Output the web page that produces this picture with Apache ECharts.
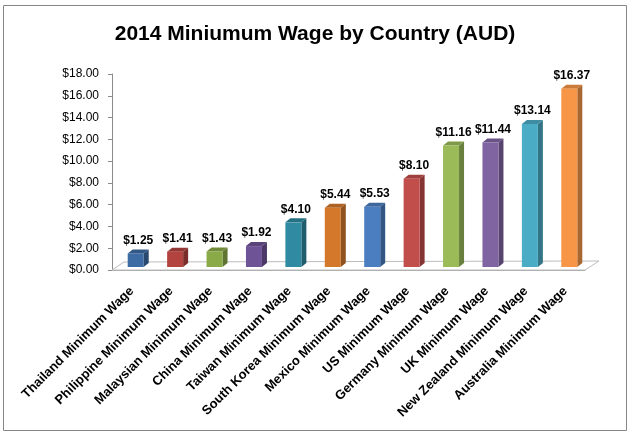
<!DOCTYPE html>
<html>
<head>
<meta charset="utf-8">
<script src="https://cdn.jsdelivr.net/npm/echarts@6/dist/echarts.min.js"></script>
<style>
  html, body { margin: 0; padding: 0; background: #fff; }
  #chart { width: 630px; height: 434px; }
</style>
</head>
<body>
<div id="chart"></div>
<script>
const countries = [
  'Thailand Minimum Wage',
  'Philippine Minimum Wage',
  'Malaysian Minimum Wage',
  'China Minimum Wage',
  'Taiwan Minimum Wage',
  'South Korea Minimum Wage',
  'Mexico Minimum Wage',
  'US Minimum Wage',
  'Germany Minimum Wage',
  'UK Minimum Wage',
  'New Zealand Minimum Wage',
  'Australia Minimum Wage',
]
const wages = [1.25, 1.41, 1.43, 1.92, 4.1, 5.44, 5.53, 8.1, 11.16, 11.44, 13.14, 16.37]
const yTicks = [0, 2, 4, 6, 8, 10, 12, 14, 16, 18]

// excel 2007 palette, first round is a bit darker
const barColors = [
  '#3d6ba3', '#b3433f', '#8aaa48', '#6e5396', '#2f8aa2', '#d4782c',
  '#4a7ec0', '#c24e4b', '#9bbb59', '#8064a2', '#4bacc6', '#f79646',
]

const FONT = 'Liberation Sans'
const money = (v) => '$' + Number(v).toFixed(2)

// mix a hex colour with black
const shade = (hex, k) => {
  const n = parseInt(hex.slice(1), 16)
  const f = (c) => Math.round(c * (1 - k))
  return 'rgb(' + f(n >> 16) + ',' + f((n >> 8) & 255) + ',' + f(n & 255) + ')'
}

const myChart = echarts.init(document.getElementById('chart'))

const renderBar = (params, api) => {
  const i = api.value(0)
  const v = api.value(1)
  const base = api.coord([i, 0])
  const top = api.coord([i, v])
  const w = 16
  const dx = 5
  const dy = 4
  const left = base[0] - 4
  const right = left + w
  const by = base[1] - 3
  const ty = top[1] - 3
  const color = barColors[params.dataIndex % barColors.length]
  return {
    type: 'group',
    children: [
      {
        type: 'polygon',
        shape: { points: [[right, ty], [right + dx, ty - dy], [right + dx, by - dy], [right, by]] },
        style: { fill: shade(color, 0.32) },
      },
      {
        type: 'polygon',
        shape: { points: [[left, ty], [left + dx, ty - dy], [right + dx, ty - dy], [right, ty]] },
        style: { fill: shade(color, 0.18) },
      },
      {
        type: 'rect',
        shape: { x: left, y: ty, width: w, height: by - ty },
        style: { fill: color },
      },
      {
        type: 'text',
        style: {
          x: left + (w + dx) / 2,
          y: ty - dy - 3,
          text: money(v),
          fill: '#000',
          font: 'bold 12px "' + FONT + '"',
          align: 'center',
          verticalAlign: 'bottom',
        },
      },
    ],
  }
}

const renderFloor = (params) => {
  if (params.dataIndex !== 0) return
  const r = params.coordSys
  const x = r.x
  const y = r.y + r.height
  const x2 = r.x + r.width
  return {
    type: 'polygon',
    shape: { points: [[x, y], [x2, y], [x2 + 14, y - 9], [x + 12, y - 8]] },
    style: { fill: '#fff', stroke: '#bcbcbc', lineWidth: 1 },
  }
}

const option = {
  animation: false,
  title: {
    text: '2014 Miniumum Wage by Country (AUD)',
    left: 'center',
    top: 19,
    textStyle: { fontFamily: FONT, fontSize: 21, fontWeight: 'bold', color: '#000' },
  },
  graphic: [
    {
      type: 'rect',
      shape: { x: 3.5, y: 5.5, width: 623, height: 425 },
      style: { fill: null, stroke: '#868686', lineWidth: 1 },
      z: 0,
    },
  ],
  grid: { left: 112, right: 45, top: 74, bottom: 164 },
  xAxis: {
    type: 'category',
    data: countries,
    axisLine: { lineStyle: { color: '#a6a6a6' } },
    axisTick: { length: 5, lineStyle: { color: '#a6a6a6' } },
    axisLabel: {
      interval: 0,
      rotate: 45,
      margin: 19,
      color: '#000',
      fontFamily: FONT,
      fontSize: 13,
      fontWeight: 'bold',
    },
  },
  yAxis: {
    type: 'value',
    min: yTicks[0],
    max: yTicks[yTicks.length - 1],
    interval: yTicks[1] - yTicks[0],
    axisLine: { show: true, lineStyle: { color: '#8c8c8c' } },
    axisTick: { show: true, length: 4, lineStyle: { color: '#8c8c8c' } },
    splitLine: { show: false },
    axisLabel: {
      margin: 13,
      color: '#000',
      fontFamily: FONT,
      fontSize: 12,
      formatter: money,
    },
  },
  series: [
    {
      type: 'custom',
      renderItem: renderFloor,
      data: wages.map((v, i) => [i, v]),
      z: 1,
      silent: true,
    },
    {
      type: 'custom',
      renderItem: renderBar,
      data: wages.map((v, i) => [i, v]),
      encode: { x: 0, y: 1 },
      z: 3,
    },
  ],
}

myChart.setOption(option)
</script>
</body>
</html>
